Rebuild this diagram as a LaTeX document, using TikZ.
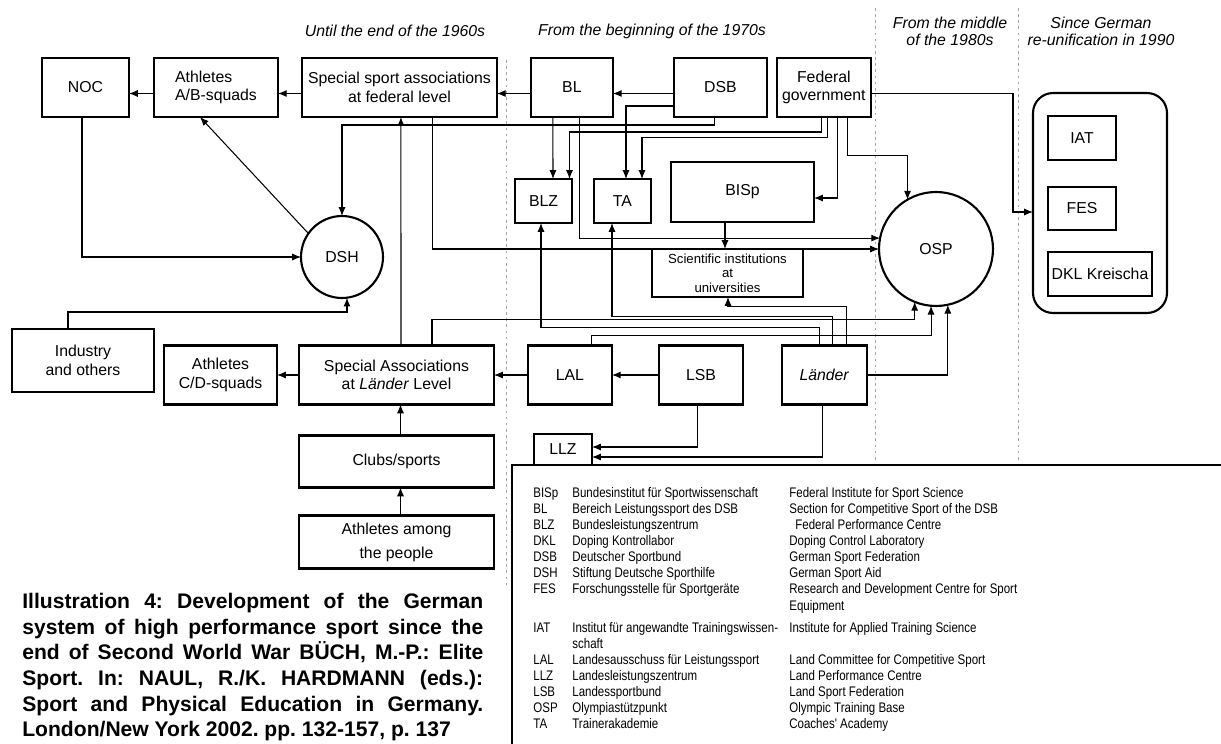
\documentclass[tikz,border=0pt]{standalone}
\usepackage{fontspec}
\setmainfont{Liberation Sans}
\newfontfamily\legendfont[FakeStretch=0.83]{Liberation Sans}
\usepackage{tikz}
\usetikzlibrary{positioning,calc,arrows.meta}

\begin{document}
\begin{tikzpicture}[x=0.02cm,y=-0.02cm]
        % Styles: boxes with thick black frame, thin connectors
        \tikzstyle{box} = [
            draw,
            line width=1.2pt,
            inner sep=1pt,
            outer sep=0pt,
            align=center,
            font=\fontsize{9}{10.5}\selectfont
        ]
        \tikzstyle{row} = [box, minimum height=1.18cm]
        \tikzstyle{ring} = [draw, circle, line width=1.2pt, inner sep=0pt, outer sep=0pt, font=\fontsize{9}{10.5}\selectfont]
        \tikzstyle{arr} = [line width=0.6pt, -{Latex[length=5pt, width=4pt]}]
        \tikzstyle{period} = [align=center, font=\fontsize{9}{9.8}\selectfont\itshape]
        \tikzstyle{divider} = [gray!70, line width=0.5pt, dash pattern=on 1.5pt off 2pt]
        \tikzstyle{legend} = [anchor=base west, inner sep=0pt, font=\legendfont\fontsize{7.9}{9}\selectfont]

        \useasboundingbox (0,0) rectangle (1221,744);

        % Period headings and dividers
        \node[period] (h60) at (395,31) {Until the end of the 1960s};
        \node[period] (h70) at (652,31) {From the beginning of the 1970s};
        \node[period] (h80) at (950,31.5) {From the middle\\of the 1980s};
        \node[period] (h90) at (1101,31.5) {Since German\\re-unification in 1990};
        \draw[divider] (506,60) -- (506,585);
        \draw[divider] (875,8) -- (875,462);
        \draw[divider] (1018,8) -- (1018,462);

        % Top row
        \node[row, minimum width=1.74cm] (NOC) at (85.5,87.5) {NOC};
        \node[row, align=left, minimum width=2.48cm, right=0.5cm of NOC] (absq) {Athletes\\A/B-squads};
        \node[row, minimum width=3.9cm, right=0.48cm of absq] (fedsp) {Special sport associations\\at federal level};
        \node[row, minimum width=1.64cm, right=0.68cm of fedsp] (BL) {BL};
        \node[row, minimum width=1.86cm, right=1.22cm of BL] (DSB) {DSB};
        \node[row, minimum width=1.88cm, right=0.2cm of DSB] (fedgov) {Federal\\government};

        % Institutions
        \node[box, minimum width=1.14cm, minimum height=0.88cm] (BLZ) at (543.5,201) {BLZ};
        \node[box, minimum width=1.14cm, minimum height=0.88cm] (TA) at (622.5,201) {TA};
        \node[box, minimum width=2.86cm, minimum height=1.2cm] (BISp) at (742.5,192) {BISp};
        \node[box, minimum width=3.02cm, minimum height=0.96cm, font=\fontsize{7.5}{8.2}\selectfont] (sci) at (727.5,273) {Scientific institutions\\at\\universities};
        \node[ring, minimum size=2.28cm] (OSP) at (936,249) {OSP};
        \node[ring, minimum size=1.64cm] (DSH) at (342,257) {DSH};

        % Since 1990
        \node[box, rounded corners=0.4cm, minimum width=2.68cm, minimum height=4.4cm] (unity) at (1100,203) {};
        \node[box, minimum width=1.36cm, minimum height=0.88cm] (IAT) at (1082,138) {IAT};
        \node[box, minimum width=1.36cm, minimum height=0.86cm] (FES) at (1082,208.5) {FES};
        \node[box, minimum width=2.08cm, minimum height=0.88cm] (DKL) at (1100,274) {DKL Kreischa};

        % Länder row
        \node[box, minimum width=2.84cm, minimum height=1.26cm] (industry) at (83,360.5) {Industry\\and others};
        \node[row, minimum width=3.9cm] (ldsp) at (396.5,375) {Special Associations\\at \textit{Länder} Level};
        \node[row, minimum width=2.26cm, left=0.44cm of ldsp] (cdsq) {Athletes\\C/D-squads};
        \node[row, minimum width=1.68cm, right=0.68cm of ldsp] (LAL) {LAL};
        \node[row, minimum width=1.68cm, right=0.94cm of LAL] (LSB) {LSB};
        \node[row, minimum width=1.7cm, right=0.78cm of LSB] (laender) {\textit{Länder}};
        \node[box, minimum width=1.16cm, minimum height=0.62cm] (LLZ) at (563,449.5) {LLZ};
        \node[box, minimum width=3.9cm, minimum height=1.04cm, below=0.62cm of ldsp] (clubs) {Clubs/sports};
        \node[box, minimum width=3.9cm, minimum height=1.06cm, below=0.56cm of clubs, font=\fontsize{9}{13.6}\selectfont] (people) {Athletes among\\the people};

        % Top row arrows
        \draw[arr] ($(absq.west)+(0,6)$) -- ($(NOC.east)+(0,6)$);
        \draw[arr] ($(fedsp.west)+(0,6)$) -- ($(absq.east)+(0,6)$);
        \draw[arr] ($(BL.west)+(0,6)$) -- ($(fedsp.east)+(0,6)$);
        \draw[arr] ($(DSB.west)+(0,6)$) -- ($(BL.east)+(0,6)$);
        \draw[arr] ($(DSB.west)+(0,18.5)$) -| ($(TA.north)+(3.5,0)$);

        % Into DSH
        \draw[arr] ($(NOC.south)+(-3.5,0)$) |- (DSH.west);
        \draw[arr] (DSH.145) -- ($(absq.south)+(-16,0)$);
        \draw[arr] ($(DSB.south)+(-5.5,0)$) -- ++(0,8) -| (DSH.north);
        \draw[arr] ($(industry.north)+(-15,0)$) -- ++(0,-17) -| (DSH.277);

        % Federal level
        \draw[arr] ($(ldsp.north)+(4.5,0)$) -- ($(fedsp.south)+(1.5,0)$);
        \draw[arr] ($(fedsp.south)+(33.5,0)$) |- (OSP.west);
        \draw[arr] ($(BL.south)+(8,0)$) |- (OSP.169);
        \draw[arr] ($(BL.south)+(-19,0)$) -- ($(BLZ.north)+(9.5,0)$);
        \draw[arr] ($(BISp.south)+(-17.5,0)$) -- ($(sci.north)+(-2.5,0)$);

        % Federal government
        \draw[arr] ($(fedgov.south)+(-2,0)$) -- ++(0,15) -| ($(BLZ.north)+(26,0)$);
        \draw[arr] ($(fedgov.south)+(4,0)$) -- ++(0,20.5) -| ($(TA.north)+(19.5,0)$);
        \draw[arr] ($(fedgov.south)+(14,0)$) |- ($(BISp.east)+(0,6)$);
        \draw[arr] ($(fedgov.south)+(24,0)$) -- ++(0,38.5) -| (OSP.120);
        \draw[arr] ($(fedgov.east)+(0,6)$) -| ($(unity.west)+(-20,9)$) -- ($(unity.west)+(0,9)$);

        % Länder level
        \draw[arr] (ldsp) -- (cdsq);
        \draw[arr] (LAL) -- (ldsp);
        \draw[arr] (LSB) -- (LAL);
        \draw[arr] ($(clubs.north)+(4,0)$) -- ($(ldsp.south)+(4,0)$);
        \draw[arr] ($(people.north)+(4,0)$) -- ($(clubs.south)+(4,0)$);
        \draw[arr] ($(laender.north)+(-4.5,0)$) -- ++(0,-18) -| ($(BLZ.south)+(-2.5,0)$);
        \draw[arr] ($(laender.north)+(8.5,0)$) -- ++(0,-29) -| ($(TA.south)+(-10.5,0)$);
        \draw[arr] ($(laender.north)+(22.5,0)$) -- ++(0,-39) -| ($(sci.south)+(0.5,0)$);
        \draw[arr] ($(ldsp.north)+(35.5,0)$) -- ++(0,-26) -| (OSP.248);
        \draw[arr] ($(LAL.north)+(22,0)$) -- ++(0,-10) -| (OSP.265);
        \draw[arr] (laender.east) -| (OSP.282);
        \draw[arr] ($(LSB.south)+(-3,0)$) |- ($(LLZ.east)+(0,-2.5)$);
        \draw[arr] ($(laender.south)+(-1.5,0)$) |- ($(LLZ.east)+(0,7.5)$);

        % Legend
        \draw[line width=1.2pt] (512,744) -- (512,465) -- (1221,465);
        \foreach \ab/\de/\en/\yy in {
            BISp/Bundesinstitut für Sportwissenschaft/Federal Institute for Sport Science/497,
            BL/Bereich Leistungssport des DSB/Section for Competitive Sport of the DSB/513,
            BLZ/Bundesleistungszentrum/\hspace*{0.12cm}Federal Performance Centre/529,
            DKL/Doping Kontrollabor/Doping Control Laboratory/545,
            DSB/Deutscher Sportbund/German Sport Federation/561,
            DSH/Stiftung Deutsche Sporthilfe/German Sport Aid/577,
            FES/Forschungsstelle für Sportgeräte/Research and Development Centre for Sport/593,
            IAT/Institut für angewandte Trainingswissen-/Institute for Applied Training Science/632,
            LAL/Landesausschuss für Leistungssport/Land Committee for Competitive Sport/664,
            LLZ/Landesleistungszentrum/Land Performance Centre/680,
            LSB/Landessportbund/Land Sport Federation/696,
            OSP/Olympiastützpunkt/Olympic Training Base/712,
            TA/Trainerakademie/Coaches' Academy/728}
        {
            \node[legend] (ab-\ab) at (533,\yy) {\ab};
            \node[legend] (de-\ab) at (572,\yy) {\de};
            \node[legend] (en-\ab) at (789,\yy) {\en};
        }
        \node[legend] (en-FES2) at (789,610) {Equipment};
        \node[legend] (de-IAT2) at (572,648) {schaft};

        % Caption
        \node[anchor=north west, inner sep=0pt, align=left, font=\fontsize{12}{14.6}\bfseries\selectfont\frenchspacing] (caption) at (22,593) {%
            \makebox[9.22cm][s]{Illustration 4: Development of the German}\\
            \makebox[9.22cm][s]{system of high performance sport since the}\\
            \makebox[9.22cm][s]{end of Second World War BÜCH, M.-P.: Elite}\\
            \makebox[9.22cm][s]{Sport. In: NAUL, R./K. HARDMANN (eds.):}\\
            \makebox[9.22cm][s]{Sport and Physical Education in Germany.}\\
            London/New York 2002. pp. 132-157, p. 137};

    \end{tikzpicture}
\end{document}
